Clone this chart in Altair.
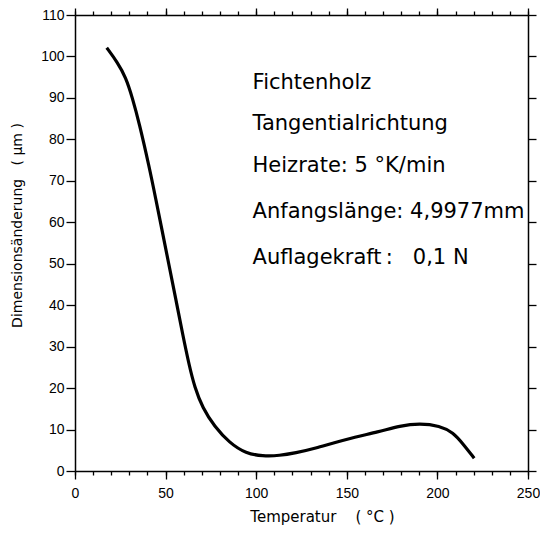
import altair as alt
import pandas as pd

# Curve
temp = [17.5, 23.4, 28.0, 31.7, 35.4, 40.9, 44.6, 48.3, 52.0, 55.7, 59.4, 63.1, 66.0,
        70.4, 76.9, 85.2, 94.4, 103.6, 112.8, 122.0, 131.3, 149.8, 168.1, 179.2,
        190.3, 201.3, 208.7, 214.2, 220.3]
dim = [102.1, 98.6, 95.0, 90.0, 84.0, 73.5, 65.6, 57.5, 49.4, 41.3, 33.0, 25.3, 20.3,
       15.2, 10.8, 6.8, 4.2, 3.6, 3.7, 4.4, 5.3, 7.7, 9.5, 10.9,
       11.5, 10.9, 9.3, 6.5, 3.1]

# Annotation block
NB = "\u00a0"
ann_text = ["Fichtenholz", "Tangentialrichtung", "Heizrate: 5 °K/min",
            "Anfangslänge: 4,9977mm", "Auflagekraft\u2009:" + NB * 3 + "0,1" + NB + "N"]
ann_y = [93.5, 83.7, 73.6, 62.4, 51.5]
ann_x = [98.0, 98.0, 98.0, 98.0, 98.0]

# Tick values
x_major = [0, 50, 100, 150, 200, 250]
x_minor = [0, 10, 20, 30, 40, 50, 60, 70, 80, 90, 100, 110, 120, 130, 140, 150,
           160, 170, 180, 190, 200, 210, 220, 230, 240, 250]
y_ticks = [0, 10, 20, 30, 40, 50, 60, 70, 80, 90, 100, 110]

x_title = "Temperatur" + NB * 4 + "(" + NB + "°C" + NB + ")"
y_title = "Dimensionsänderung" + NB * 3 + "(" + NB + "µm" + NB + ")"

df = pd.DataFrame({"T": temp, "D": dim})
ann = pd.DataFrame({"x": ann_x, "y": ann_y, "t": ann_text})

xs = alt.Scale(domain=[0, 250], nice=False, zero=False)
ys = alt.Scale(domain=[0, 110], nice=False, zero=False)

LABEL_FONT = "Liberation Sans Narrow, Liberation Sans, sans-serif"
common = dict(grid=False, domainColor="black", domainWidth=1.5,
              tickColor="black", tickWidth=1.3, labelColor="black", titleColor="black")

base = alt.Chart(df)

curve = base.mark_line(color="black", strokeWidth=3.2, interpolate="basis").encode(
    x=alt.X("T:Q", scale=xs, axis=alt.Axis(
        orient="bottom", values=x_major, tickSize=8, labelPadding=7, labelFlush=False,
        labelFont=LABEL_FONT, labelFontSize=14,
        title=x_title, titleFont="DejaVu Sans", titleFontSize=15,
        titleFontWeight="normal", titleX=247, titleY=45, titleAlign="center",
        titleBaseline="middle", **common)),
    y=alt.Y("D:Q", scale=ys, axis=alt.Axis(
        orient="left", values=y_ticks, tickSize=9, labelPadding=2, labelFlush=False,
        labelFont=LABEL_FONT, labelFontSize=14,
        title=y_title, titleFont="DejaVu Sans", titleFontSize=14,
        titleFontWeight="normal", titleX=-58, titleY=210, titleAngle=270,
        titleAlign="center", titleBaseline="middle", **common)),
)

minor = base.mark_line(opacity=0).encode(
    x=alt.X("T:Q", scale=xs, axis=alt.Axis(
        orient="bottom", values=x_minor, tickSize=4, labels=False, domain=False,
        title=None, **common)),
    y=alt.Y("D:Q", scale=ys, axis=alt.Axis(
        orient="right", values=y_ticks, tickSize=8, labels=False, title=None, **common)),
)

top_minor = base.mark_line(opacity=0).encode(
    x=alt.X("T:Q", scale=xs, axis=alt.Axis(
        orient="top", values=x_minor, tickSize=4, labels=False, title=None, **common)),
    y=alt.Y("D:Q", scale=ys, axis=None),
)

top_major = base.mark_line(opacity=0).encode(
    x=alt.X("T:Q", scale=xs, axis=alt.Axis(
        orient="top", values=x_major, tickSize=7, labels=False, domain=False,
        title=None, **common)),
    y=alt.Y("D:Q", scale=ys, axis=None),
)

text = alt.Chart(ann).mark_text(
    align="left", baseline="middle", font="DejaVu Sans", fontSize=21, color="black"
).encode(
    x=alt.X("x:Q", scale=xs, axis=None),
    y=alt.Y("y:Q", scale=ys, axis=None),
    text="t:N",
)

chart = alt.layer(curve, minor, top_minor, top_major, text).resolve_axis(
    x="independent", y="independent"
).properties(
    width=453, height=456,
    autosize=alt.AutoSizeParams(type="none"),
    padding={"left": 67, "top": 7, "right": 12, "bottom": 57},
    background="white",
).configure_view(stroke=None)

chart.save("out.html", embed_options={"renderer": "svg", "actions": False})
